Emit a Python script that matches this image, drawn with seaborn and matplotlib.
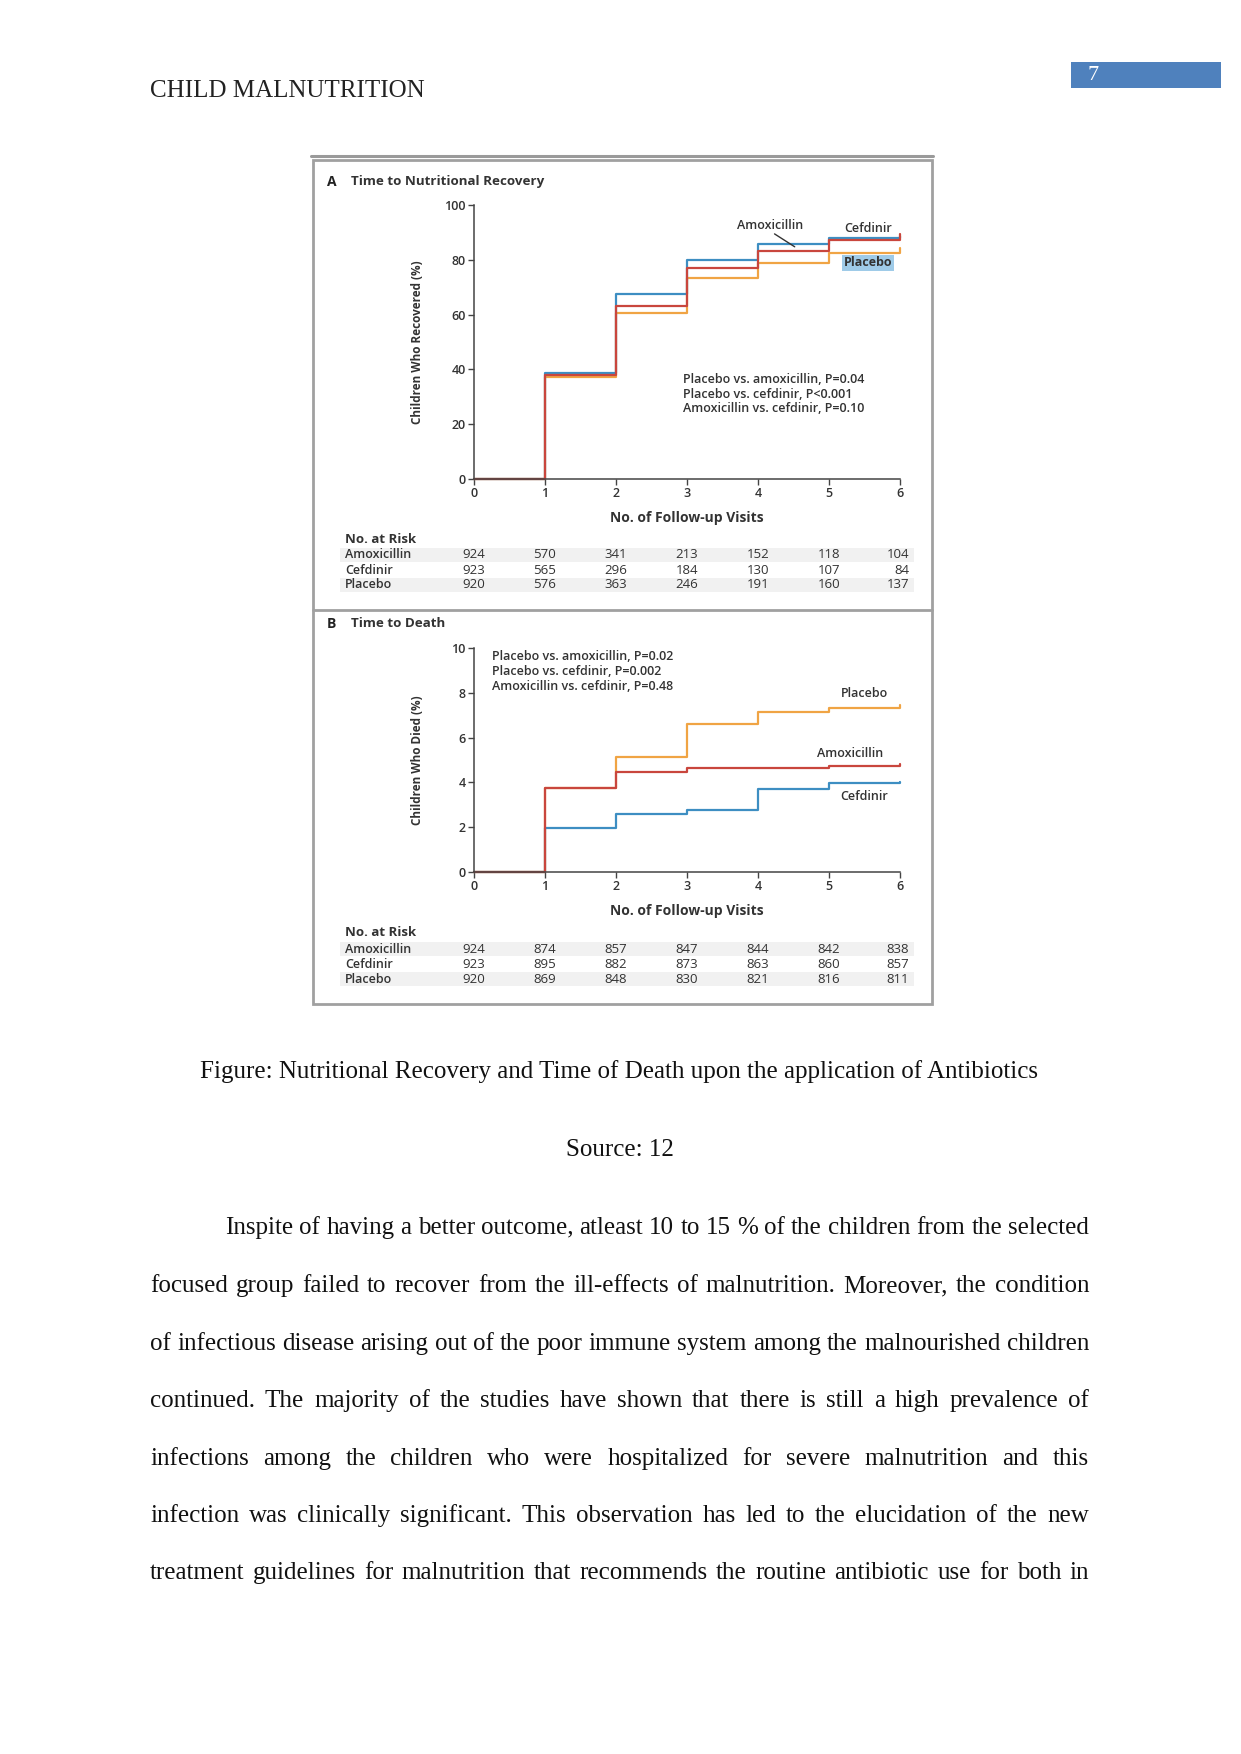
import numpy as np
import pandas as pd
import matplotlib
matplotlib.use("Agg")
import matplotlib.pyplot as plt
import seaborn as sns
from matplotlib.patches import Rectangle
from matplotlib.lines import Line2D

# ---------------- data ----------------
visits = [0, 1, 2, 3, 4, 5, 6]
groups = ["Amoxicillin", "Cefdinir", "Placebo"]

recov_amox = [0, 38.1, 63.1, 76.9, 83.3, 87.2, 89.5]
recov_cefd = [0, 38.8, 67.6, 79.8, 85.9, 88.1, 88.8]
recov_plac = [0, 37.4, 60.5, 73.3, 78.7, 82.5, 84.3]

death_amox = [0, 3.76, 4.47, 4.65, 4.65, 4.72, 4.80]
death_cefd = [0, 1.95, 2.60, 2.79, 3.71, 3.98, 4.02]
death_plac = [0, 3.76, 5.13, 6.61, 7.13, 7.30, 7.45]

risk_a_amox = [924, 570, 341, 213, 152, 118, 104]
risk_a_cefd = [923, 565, 296, 184, 130, 107, 84]
risk_a_plac = [920, 576, 363, 246, 191, 160, 137]

risk_b_amox = [924, 874, 857, 847, 844, 842, 838]
risk_b_cefd = [923, 895, 882, 873, 863, 860, 857]
risk_b_plac = [920, 869, 848, 830, 821, 816, 811]

y_ticks_a = [0, 20, 40, 60, 80, 100]
y_ticks_b = [0, 2, 4, 6, 8, 10]

pvals_a = ["Placebo vs. amoxicillin, P=0.04",
           "Placebo vs. cefdinir, P<0.001",
           "Amoxicillin vs. cefdinir, P=0.10"]
pvals_b = ["Placebo vs. amoxicillin, P=0.02",
           "Placebo vs. cefdinir, P=0.002",
           "Amoxicillin vs. cefdinir, P=0.48"]

body_lines = [
    "Inspite of having a better outcome, atleast 10 to 15 % of the children from the selected",
    "focused group failed to recover from the ill-effects of malnutrition. Moreover, the condition",
    "of infectious disease arising out of the poor immune system among the malnourished children",
    "continued. The majority of the studies have shown that there is still a high prevalence of",
    "infections among the children who were hospitalized for severe malnutrition and this",
    "infection was clinically significant. This observation has led to the elucidation of the new",
    "treatment guidelines for malnutrition that recommends the routine antibiotic use for both in",
]

# ---------------- style ----------------
sns.set_theme(style="white")
plt.rcParams["font.family"] = ["Open Sans", "DejaVu Sans"]

palette = {"Amoxicillin": "#c9463d", "Cefdinir": "#3d8ec2", "Placebo": "#f0a444"}
W, H = 1241, 1754
fig = plt.figure(figsize=(W / 100, H / 100), dpi=100)
fig.patch.set_facecolor("white")

def fx(px):
    return px / W

def fy(py):
    return 1 - py / H

serif = ["Liberation Serif", "DejaVu Serif"]
TXT = "#333333"
SEMI = "semibold"

# ---------------- page elements ----------------
fig.text(fx(150), fy(97), "CHILD MALNUTRITION", family=serif, fontsize=18,
         va="baseline", ha="left", color="#222222")
fig.patches.append(Rectangle((fx(1071), fy(88)), fx(150), 26 / H,
                             transform=fig.transFigure, facecolor="#4f81bd",
                             edgecolor="none"))
fig.text(fx(1093), fy(75), "7", family=serif, fontsize=16, color="white",
         va="center", ha="center")

# figure frame
fig.lines.append(Line2D([fx(311), fx(933)], [fy(156), fy(156)],
                        transform=fig.transFigure, color="#9a9a9a", lw=2.2))
fig.patches.append(Rectangle((fx(313), fy(1004)), fx(932 - 313), (1004 - 160) / H,
                             transform=fig.transFigure, facecolor="none",
                             edgecolor="#a0a0a0", lw=2.0))
fig.lines.append(Line2D([fx(313), fx(932)], [fy(610), fy(610)],
                        transform=fig.transFigure, color="#a0a0a0", lw=2.0))

def make_df(a, c, p):
    rows = []
    for g, vals in zip(groups, [a, c, p]):
        for x, v in zip(visits, vals):
            rows.append({"visit": x, "pct": v, "group": g})
    return pd.DataFrame(rows)

tick_font = dict(fontsize=9, fontweight=SEMI, color=TXT)

def style_axes(ax, yticks, ymax):
    ax.set_xlim(0, 6)
    ax.set_ylim(0, ymax)
    ax.set_xticks(visits)
    ax.set_yticks(yticks)
    ax.set_xticklabels([str(v) for v in visits], **tick_font)
    ax.set_yticklabels([str(v) for v in yticks], **tick_font)
    sns.despine(ax=ax)
    for s in ["left", "bottom"]:
        ax.spines[s].set_color("#444444")
        ax.spines[s].set_linewidth(1.1)
    ax.tick_params(axis="both", direction="out", length=4, width=1.0,
                   color="#444444", pad=2, bottom=True, left=True)
    ax.set_facecolor("none")
    ax.grid(False)
    if ax.get_legend() is not None:
        ax.get_legend().remove()
    for ln in ax.lines:
        ln.set_clip_on(False)

def risk_table(ax, header_y, rows_y, a, c, p):
    fig.text(fx(345), fy(header_y), "No. at Risk", fontsize=9.5, fontweight="bold",
             color=TXT, va="center", ha="left")
    for i, (name, vals, ry) in enumerate(zip(groups, [a, c, p], rows_y)):
        if i != 1:
            fig.patches.append(Rectangle((fx(340), fy(ry + 7)), fx(914 - 340), 14 / H,
                                         transform=fig.transFigure,
                                         facecolor="#f1f1f1", edgecolor="none"))
        fig.text(fx(345), fy(ry), name, fontsize=9, fontweight=SEMI, color=TXT,
                 va="center", ha="left")
        for x, v in zip(visits, vals):
            xd = ax.transData.transform((x, 0))[0]
            xf = fig.transFigure.inverted().transform((xd, 0))[0]
            if x == 6:
                fig.text(xf + fx(9), fy(ry), str(v), fontsize=9.5, color=TXT,
                         va="center", ha="right")
            else:
                fig.text(xf, fy(ry), str(v), fontsize=9.5, color=TXT,
                         va="center", ha="center")

lab_kw = dict(fontsize=10, fontweight="bold", color=TXT)

# ---------------- panel A ----------------
axA = fig.add_axes([fx(474), fy(479), fx(900 - 474), (479 - 205) / H])
dfA = make_df(recov_amox, recov_cefd, recov_plac)
sns.lineplot(data=dfA, x="visit", y="pct", hue="group", palette=palette,
             drawstyle="steps-post", estimator=None, lw=1.6, ax=axA,
             hue_order=["Placebo", "Cefdinir", "Amoxicillin"])
style_axes(axA, y_ticks_a, 100)
axA.set_xlabel("No. of Follow-up Visits", **lab_kw)
axA.xaxis.set_label_coords(0.5, -0.115)
axA.set_ylabel("Children Who Recovered (%)", fontsize=8.5, fontweight="bold", color=TXT)
axA.yaxis.set_label_coords(-0.118, 0.5)
fig.text(fx(327), fy(182), "A", fontsize=10, fontweight="bold", color="#222222",
         va="center")
fig.text(fx(351), fy(182), "Time to Nutritional Recovery", fontsize=9.6,
         fontweight="bold", color=TXT, va="center")
axA.text(4.17, 92.5, "Amoxicillin", fontsize=9, fontweight=SEMI, color=TXT,
         ha="center", va="center")
axA.annotate("", xy=(4.55, 84.2), xytext=(4.2, 90.0),
             arrowprops=dict(arrowstyle="-", color="#333333", lw=1.0))
axA.text(5.55, 91.3, "Cefdinir", fontsize=9, fontweight=SEMI, color=TXT,
         ha="center", va="center")
axA.text(5.55, 79.0, "Placebo", fontsize=9, fontweight="bold", color=TXT,
         ha="center", va="center",
         bbox=dict(boxstyle="square,pad=0.12", facecolor="#9fcbe8", edgecolor="none"))
for i, t in enumerate(pvals_a):
    axA.text(2.95, 36.2 - i * 5.3, t, fontsize=9, fontweight=SEMI, color=TXT,
             ha="left", va="center")
risk_table(axA, 539, [555, 570, 585], risk_a_amox, risk_a_cefd, risk_a_plac)

# ---------------- panel B ----------------
axB = fig.add_axes([fx(474), fy(872), fx(900 - 474), (872 - 648) / H])
dfB = make_df(death_amox, death_cefd, death_plac)
sns.lineplot(data=dfB, x="visit", y="pct", hue="group", palette=palette,
             drawstyle="steps-post", estimator=None, lw=1.6, ax=axB,
             hue_order=["Placebo", "Cefdinir", "Amoxicillin"])
style_axes(axB, y_ticks_b, 10)
axB.set_xlabel("No. of Follow-up Visits", **lab_kw)
axB.xaxis.set_label_coords(0.5, -0.142)
axB.set_ylabel("Children Who Died (%)", fontsize=8.5, fontweight="bold", color=TXT)
axB.yaxis.set_label_coords(-0.118, 0.5)
fig.text(fx(327), fy(624), "B", fontsize=10, fontweight="bold", color="#222222",
         va="center")
fig.text(fx(351), fy(624), "Time to Death", fontsize=9.6, fontweight="bold",
         color=TXT, va="center")
axB.text(5.5, 7.98, "Placebo", fontsize=9, fontweight=SEMI, color=TXT,
         ha="center", va="center")
axB.text(5.3, 5.3, "Amoxicillin", fontsize=9, fontweight=SEMI, color=TXT,
         ha="center", va="center")
axB.text(5.5, 3.35, "Cefdinir", fontsize=9, fontweight=SEMI, color=TXT,
         ha="center", va="center")
for i, t in enumerate(pvals_b):
    axB.text(0.25, 9.6 - i * 0.65, t, fontsize=9, fontweight=SEMI, color=TXT,
             ha="left", va="center")
risk_table(axB, 933, [949, 964, 979], risk_b_amox, risk_b_cefd, risk_b_plac)

# ---------------- caption & body ----------------
cx = 0.5 * (150 + 1089) / W
fig.text(cx, fy(1078),
         "Figure: Nutritional Recovery and Time of Death upon the application of Antibiotics",
         family=serif, fontsize=18, ha="center", va="baseline", color="#111111")
fig.text(cx, fy(1156), "Source: 12", family=serif, fontsize=18,
         ha="center", va="baseline", color="#111111")

renderer = fig.canvas.get_renderer()
line_ys = [1228, 1286, 1344, 1401, 1459, 1516, 1573]
right_px = 1089
for i, (line, ly) in enumerate(zip(body_lines, line_ys)):
    left_px = 225 if i == 0 else 150
    words = line.split(" ")
    objs = []
    widths = []
    for w in words:
        t = fig.text(0, fy(ly + 6), w, family=serif, fontsize=18, va="baseline",
                     ha="left", color="#111111")
        bb = t.get_window_extent(renderer=renderer)
        objs.append(t)
        widths.append(bb.width)
    total = sum(widths)
    gap = (right_px - left_px - total) / (len(words) - 1)
    x = left_px
    for t, wd in zip(objs, widths):
        t.set_x(fx(x))
        x += wd + gap

fig.savefig("out.png", dpi=100, facecolor="white")
